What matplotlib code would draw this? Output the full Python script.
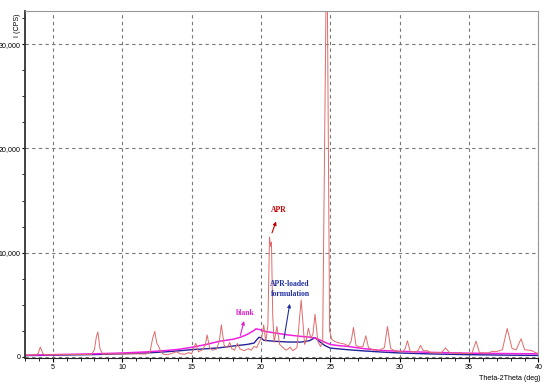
import numpy as np
import matplotlib.pyplot as plt
from matplotlib.ticker import MultipleLocator, FuncFormatter

# APR trace (2theta, cps)
apr_x = [3.0, 3.8, 3.95, 4.1, 4.3, 4.5, 6.0, 7.0, 7.8, 8.0, 8.15, 8.25, 8.4, 8.6,
         10.0, 11.0, 11.7, 12.0, 12.2, 12.35, 12.5, 12.62, 12.8, 13.0, 13.3, 13.6,
         13.9, 14.2, 14.5, 14.8, 15.0, 15.3, 15.5, 15.8, 16.0, 16.12, 16.3, 16.5,
         16.8, 17.0, 17.15, 17.35, 17.6, 17.75, 17.9, 18.1, 18.3, 18.5, 18.8, 19.1,
         19.3, 19.5, 19.7, 19.9, 20.05, 20.2, 20.35, 20.5, 20.62, 20.7, 20.76, 20.85,
         20.95, 21.15, 21.35, 21.6, 21.8, 22.0, 22.1, 22.3, 22.6, 22.9, 23.15, 23.25,
         23.42, 23.6, 23.75, 23.9, 24.1, 24.3, 24.45, 24.75, 24.95, 25.1, 25.3, 25.6,
         26.0, 26.3, 26.5, 26.67, 26.85, 27.1, 27.35, 27.56, 27.75, 28.0, 28.5, 28.9,
         29.12, 29.35, 29.7, 30.2, 30.4, 30.56, 30.75, 31.2, 31.35, 31.5, 31.7, 32.0,
         32.2, 33.0, 33.3, 33.6, 34.2, 34.35, 34.5, 35.2, 35.5, 35.75, 36.4, 36.7,
         36.95, 37.4, 37.75, 38.1, 38.4, 38.75, 39.0, 39.3, 39.5, 39.8, 40.0]
apr_y = [180, 200, 350, 950, 300, 200, 220, 240, 260, 700, 2000, 2380, 800, 280,
         290, 300, 280, 450, 1800, 2450, 1300, 1050, 450, 250, 220, 350,
         500, 300, 260, 420, 300, 1300, 500, 700, 1200, 2120, 900, 650,
         750, 1500, 3080, 1100, 900, 1400, 800, 650, 1300, 750, 600, 800,
         650, 1000, 900, 1500, 1800, 3080, 1500, 3000, 11500, 10600, 11000, 4000,
         1400, 2920, 1200, 900, 650, 800, 950, 600, 900, 5460, 1200, 1500,
         2760, 1800, 2200, 4100, 1500, 1000, 1500, 42000, 2500, 1700, 1500, 1350,
         1250, 1050, 1500, 2830, 1100, 950, 1000, 2030, 900, 700, 620, 900,
         2920, 800, 560, 480, 800, 1550, 550, 450, 700, 1110, 600, 600,
         420, 400, 870, 400, 330, 450, 330, 350, 1520, 400, 380, 550,
         500, 700, 2730, 800, 700, 1750, 700, 650, 620, 400, 350]

blank_x = [3, 5, 8, 10, 11.7, 13, 14, 15, 16, 17, 18, 18.5, 19, 19.5, 19.65, 19.8,
           20, 20.3, 21, 22, 22.9, 23.5, 23.9, 24.3, 24.7, 25, 25.5, 26.2, 27.4,
           28.6, 30, 32.2, 35, 38, 40]
blank_y = [170, 220, 300, 380, 480, 600, 720, 920, 1180, 1500, 1700, 1880, 2150,
           2540, 2700, 2650, 2600, 2450, 2300, 2100, 1970, 1900, 1820, 1600, 1350,
           1200, 1100, 1020, 800, 630, 540, 440, 360, 320, 300]

form_x = [3, 5, 8, 10, 11.7, 13, 14, 15, 16, 17, 18, 19, 19.5, 19.85, 20.0, 20.2,
          20.5, 21, 22, 22.9, 23.5, 23.9, 24.2, 24.6, 25, 26.2, 27.4, 28.6, 30,
          32.2, 35, 38, 40]
form_y = [130, 170, 230, 300, 380, 480, 580, 700, 780, 880, 1050, 1200, 1330, 1880,
          1850, 1600, 1560, 1500, 1430, 1430, 1560, 1850, 1500, 1100, 850, 700, 580,
          480, 380, 290, 220, 170, 150]

plt.rcParams['font.family'] = ['Liberation Sans', 'DejaVu Sans']
tsize = 5.1

fig = plt.figure(figsize=(5.5, 3.89), dpi=100)
ax = fig.add_axes([0.0455, 0.0797, 0.9335, 0.8928])

ax.plot(form_x, form_y, color='#22229a', lw=1.0)
ax.plot(blank_x, blank_y, color='#f020e0', lw=1.1)
ax.plot(apr_x, apr_y, color='#e06a6a', lw=0.7)

ax.set_xlim(3, 40)
ax.set_ylim(-100, 33200)

ax.xaxis.set_major_locator(MultipleLocator(5))
ax.xaxis.set_minor_locator(MultipleLocator(1))
ax.yaxis.set_major_locator(MultipleLocator(10000))
ax.yaxis.set_minor_locator(MultipleLocator(2500))
ax.yaxis.set_major_formatter(FuncFormatter(lambda v, p: f'{int(v):,}'))
ax.tick_params(which='major', labelsize=tsize, length=3, width=0.8, pad=1)
ax.tick_params(axis='y', which='major', length=2.5, pad=0.5)
ax.tick_params(which='minor', length=2, width=0.6)

ax.grid(True, which='major', color='#777777', ls=(0, (3, 3)), lw=0.8)

for s in ['top', 'right']:
    ax.spines[s].set_color('#999999')
    ax.spines[s].set_linewidth(0.8)
ax.spines['left'].set_color('#333333')
ax.spines['left'].set_linewidth(1.3)
ax.spines['bottom'].set_color('#222222')

fig.text(0.031, 0.935, 'I (CPS)', rotation=90, fontsize=tsize, ha='center', va='center')
fig.text(0.982, 0.028, 'Theta-2Theta (deg)', fontsize=tsize, ha='right', va='center')

ser = ['Liberation Serif', 'DejaVu Serif']
ax.annotate('APR', xy=(21.16, 13240), xytext=(21.25, 13700), color='#c00000',
            fontsize=5.5, fontweight='bold', family=ser, ha='center', va='bottom')
ax.annotate('', xy=(21.16, 13240), xytext=(20.73, 11650),
            arrowprops=dict(arrowstyle='-|>', color='#c00000', lw=0.8, mutation_scale=5))
ax.text(22.1, 6480, 'APR-loaded\nformulation', color='#1f2f9f', fontsize=5.5,
        fontweight='bold', family=ser, ha='center', va='center', linespacing=1.3)
ax.annotate('', xy=(22.11, 5360), xytext=(21.63, 1500),
            arrowprops=dict(arrowstyle='-|>', color='#1f2f9f', lw=0.8, mutation_scale=5))
ax.text(18.88, 4190, 'blank', color='#e020d0', fontsize=5.5, fontweight='bold',
        family=ser, ha='center', va='center')
ax.annotate('', xy=(18.83, 3710), xytext=(18.47, 1810),
            arrowprops=dict(arrowstyle='-|>', color='#e020d0', lw=0.8, mutation_scale=5))

fig.savefig('out.png', dpi=100)
